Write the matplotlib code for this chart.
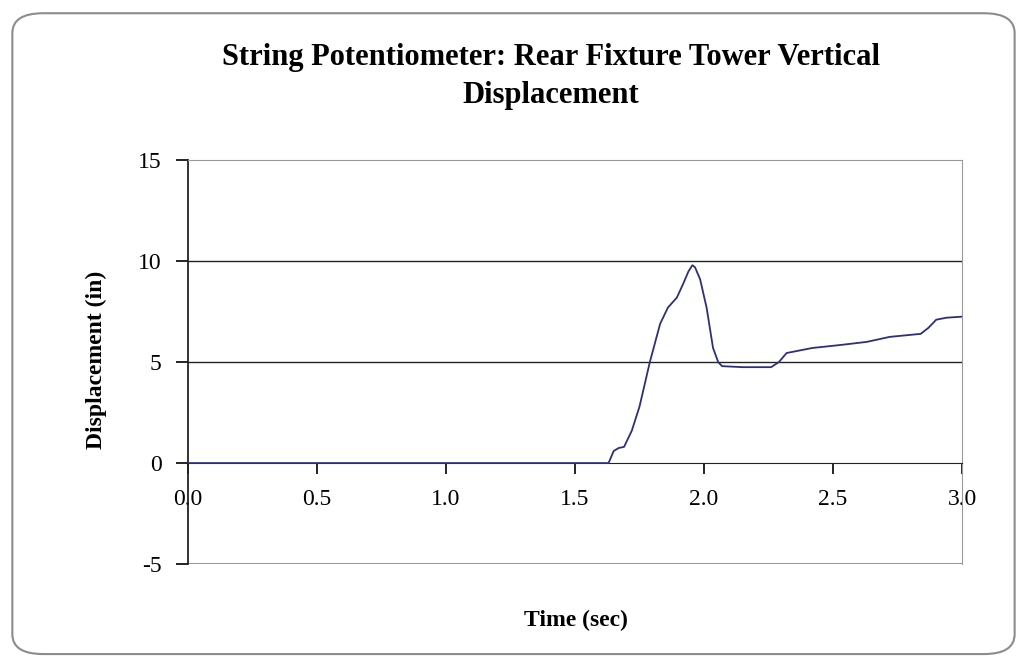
import numpy as np
import matplotlib.pyplot as plt
from matplotlib.patches import FancyBboxPatch

# time (sec) and displacement (in)
time_sec = [0.0, 0.5, 1.0, 1.5, 1.63, 1.65, 1.67, 1.69, 1.72, 1.75, 1.79, 1.83, 1.86,
            1.895, 1.92, 1.94, 1.955, 1.965, 1.985, 2.01, 2.035, 2.055, 2.07, 2.15, 2.26,
            2.29, 2.32, 2.42, 2.53, 2.63, 2.72, 2.84, 2.87, 2.90, 2.94, 3.0]
displacement_in = [0.0, 0.0, 0.0, 0.0, 0.0, 0.6, 0.75, 0.8, 1.6, 2.8, 5.0, 6.9, 7.7,
                   8.2, 8.9, 9.5, 9.8, 9.7, 9.1, 7.7, 5.7, 5.0, 4.8, 4.75, 4.75,
                   5.0, 5.45, 5.7, 5.85, 6.0, 6.25, 6.4, 6.7, 7.1, 7.2, 7.25]

y_ticks = [-5, 0, 5, 10, 15]
x_ticks = [0.0, 0.5, 1.0, 1.5, 2.0, 2.5, 3.0]

plt.rcParams['font.family'] = ['Liberation Serif', 'DejaVu Serif']

fig = plt.figure(figsize=(10.28, 6.62), dpi=100)
fig.patch.set_facecolor('white')

# rounded outer frame
frame = FancyBboxPatch((0.012, 0.012), 0.975, 0.968, boxstyle='round,pad=0,rounding_size=0.03',
                       transform=fig.transFigure, facecolor='white', edgecolor='#8c8c8c',
                       linewidth=1.5, zorder=-5)
fig.patches.append(frame)

ax = fig.add_axes([0.1829, 0.148, 0.7529, 0.610])
ax.set_facecolor('white')

ax.plot(time_sec, displacement_in, color='#2e2e7e', linewidth=1.3, zorder=3)

ax.set_xlim(0, 3.0)
ax.set_ylim(-5, 15)

for yv in [5, 10]:
    ax.axhline(yv, color='#222222', linewidth=1.0, zorder=1)

ax.spines['bottom'].set_position(('data', 0))
ax.spines['bottom'].set_color('#222222')
ax.spines['left'].set_color('#222222')
ax.spines['left'].set_linewidth(1.3)
ax.spines['top'].set_color('#9a9a9a')
ax.spines['right'].set_color('#9a9a9a')
# bottom border at -5
ax.axhline(-5, color='#9a9a9a', linewidth=1.5, zorder=1)

ax.set_yticks(y_ticks)
ax.set_yticklabels([str(v) for v in y_ticks])
ax.set_xticks(x_ticks)
ax.set_xticklabels(['%.1f' % v for v in x_ticks])
ax.tick_params(axis='y', direction='out', length=9, width=1.2, labelsize=17, pad=10)
ax.tick_params(axis='x', direction='out', length=8, width=1.2, labelsize=17, pad=11)

fig.text(0.536, 0.885, 'String Potentiometer: Rear Fixture Tower Vertical\nDisplacement',
         ha='center', va='center', fontsize=22, fontweight='bold', linespacing=1.4)
fig.text(0.094, 0.456, 'Displacement (in)', rotation=90, ha='center', va='center',
         fontsize=17, fontweight='bold')
fig.text(0.56, 0.063, 'Time (sec)', ha='center', va='center', fontsize=17, fontweight='bold')

fig.savefig('out.png', dpi=100, facecolor='white')
